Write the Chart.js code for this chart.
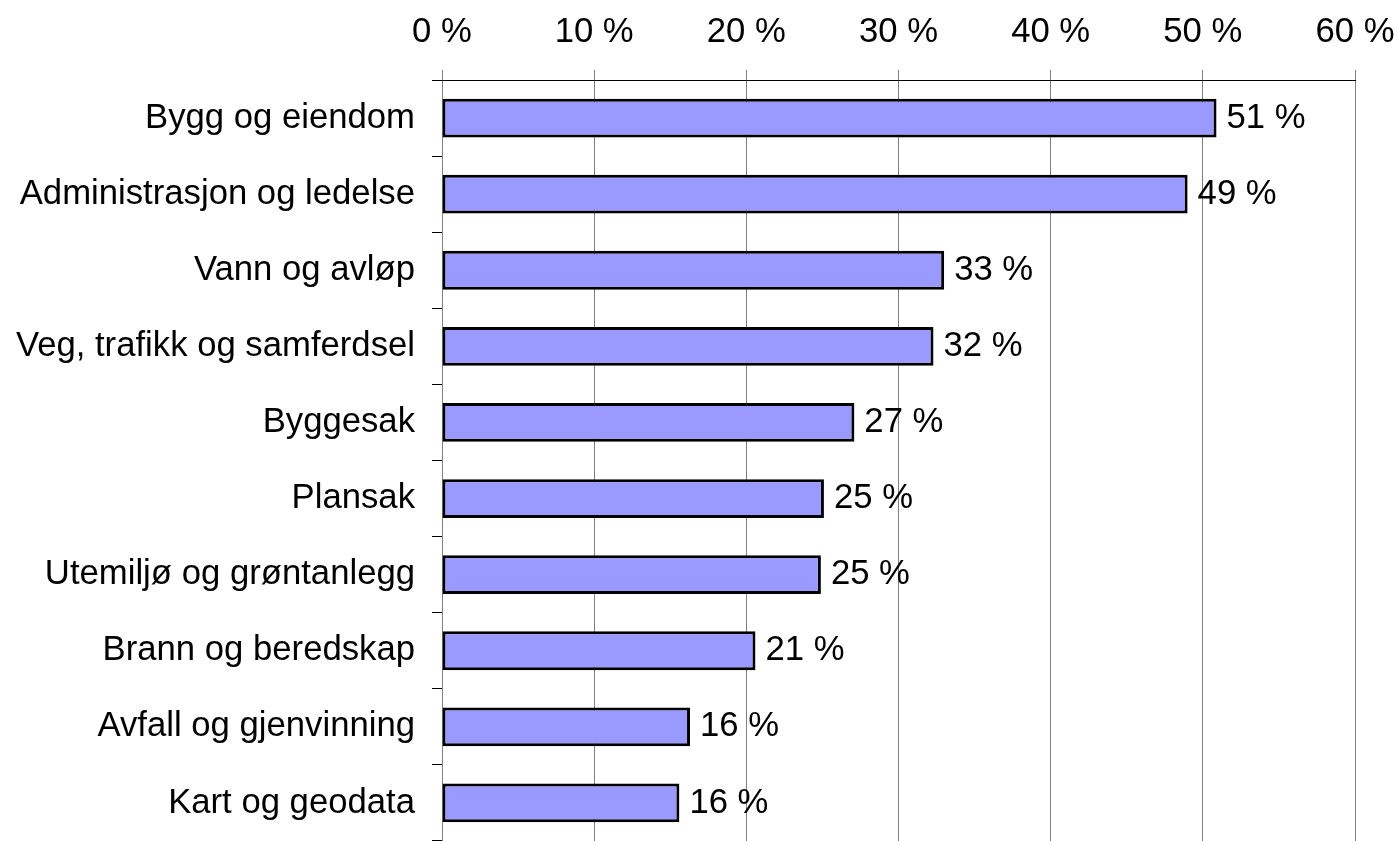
<!DOCTYPE html>
<html>
<head>
<meta charset="utf-8">
<script src="https://cdn.jsdelivr.net/npm/chart.js@4/dist/chart.umd.min.js"></script>
<style>
  html, body { margin: 0; padding: 0; background: #ffffff; overflow: hidden; }
  canvas { display: block; }
</style>
</head>
<body>
<canvas id="c" width="1399" height="841"></canvas>
<script>
const categories = [
  'Bygg og eiendom',
  'Administrasjon og ledelse',
  'Vann og avløp',
  'Veg, trafikk og samferdsel',
  'Byggesak',
  'Plansak',
  'Utemiljø og grøntanlegg',
  'Brann og beredskap',
  'Avfall og gjenvinning',
  'Kart og geodata'
];
const values = [50.9, 49.0, 33.0, 32.3, 27.1, 25.1, 24.9, 20.6, 16.3, 15.6];
const tickValues = [0, 10, 20, 30, 40, 50, 60];

const FONT_FAMILY = "'Liberation Sans', Arial, sans-serif";
const FONT_SIZE = 34.7;

const valueLabels = {
  id: 'valueLabels',
  afterDatasetsDraw(chart) {
    const ctx = chart.ctx;
    const meta = chart.getDatasetMeta(0);
    ctx.save();
    ctx.font = FONT_SIZE + 'px ' + FONT_FAMILY;
    ctx.fillStyle = '#000000';
    ctx.textAlign = 'left';
    ctx.textBaseline = 'middle';
    meta.data.forEach((bar, i) => {
      const v = chart.data.datasets[0].data[i];
      ctx.fillText(Math.round(v) + ' %', bar.x + 10, bar.y);
    });
    ctx.restore();
  }
};

new Chart(document.getElementById('c'), {
  type: 'bar',
  data: {
    labels: categories,
    datasets: [{
      data: values,
      backgroundColor: '#9999FF',
      borderColor: '#000000',
      borderWidth: 3,
      borderSkipped: false,
      barPercentage: 0.51,
      categoryPercentage: 1.0
    }]
  },
  options: {
    indexAxis: 'y',
    responsive: false,
    animation: false,
    layout: { padding: { left: 0, right: 44, top: 9, bottom: 0 } },
    plugins: {
      legend: { display: false },
      tooltip: { enabled: false },
      title: { display: false }
    },
    scales: {
      x: {
        position: 'top',
        min: 0,
        max: 60,
        afterBuildTicks(scale) {
          scale.ticks = tickValues.map(v => ({ value: v }));
        },
        afterFit(scale) {
          scale.height = 71;
          scale.paddingLeft = 0;
          scale.paddingRight = 0;
        },
        ticks: {
          callback: v => v + ' %',
          color: '#000000',
          font: { family: FONT_FAMILY, size: FONT_SIZE },
          padding: 17,
          maxRotation: 0
        },
        grid: {
          color: '#808080',
          lineWidth: 1,
          tickLength: 10,
          drawTicks: true
        },
        border: { display: true, color: '#000000', width: 1 }
      },
      y: {
        position: 'left',
        afterFit(scale) {
          scale.width = 442;
          scale.paddingTop = 0;
          scale.paddingBottom = 0;
        },
        ticks: {
          color: '#000000',
          font: { family: FONT_FAMILY, size: FONT_SIZE },
          padding: 17,
          autoSkip: false
        },
        grid: {
          offset: true,
          drawOnChartArea: false,
          color: '#000000',
          lineWidth: 1,
          tickLength: 10
        },
        border: { display: false }
      }
    }
  },
  plugins: [valueLabels]
});
</script>
</body>
</html>
